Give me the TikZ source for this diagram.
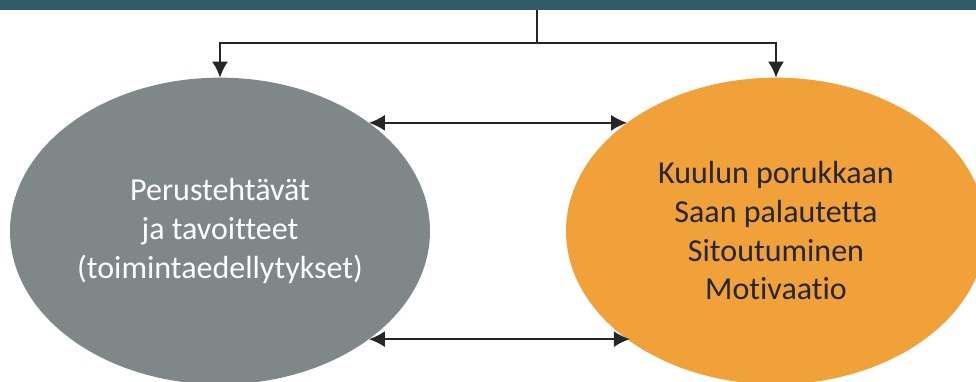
\documentclass[tikz,border=0pt]{standalone}
\usepackage{fontspec}
\setmainfont{Carlito}[Ligatures=NoCommon]
\usepackage{xcolor}
\usetikzlibrary{shapes.geometric,arrows.meta}

\definecolor{barteal}{RGB}{47,92,102}
\definecolor{blobgray}{RGB}{128,135,137}
\definecolor{bloborange}{RGB}{240,161,58}
\definecolor{inkdark}{RGB}{38,38,38}

\begin{document}
\begin{tikzpicture}[x=0.75pt,y=-0.75pt,
    blob/.style={ellipse,draw=none,minimum width=315pt,minimum height=230pt,
      inner sep=0pt,outer sep=0pt,align=center,font=\fontsize{24}{29}\selectfont},
    link/.style={line width=1.5pt,draw=inkdark,{Latex[length=12pt,width=12pt]}-{Latex[length=12pt,width=12pt]}},
    feed/.style={line width=1.5pt,draw=inkdark,-{Latex[length=12pt,width=12pt]}}]
             \useasboundingbox (0,0) rectangle (976,382);
             \clip (0,0) rectangle (976,382);

             % top bar
             \node[fill=barteal,draw=none,inner sep=0pt,outer sep=0pt,
               minimum width=732pt,minimum height=7.2pt,anchor=north west] (bar) at (0,0) {};

             \node[blob,fill=blobgray,text=white] (gray) at (220,231)
               {Perustehtävät\\ja tavoitteet\\(toimintaedellytykset)};
             \node[blob,fill=bloborange,text=inkdark] (orange) at (776,231)
               {Kuulun porukkaan\\Saan palautetta\\Sitoutuminen\\Motivaatio};

             % from the bar down to both
             \coordinate (split) at (537,43);
             \draw[line width=1.5pt,draw=inkdark] (bar.south -| split) -- (split);
             \draw[feed] (split) -| (gray.north);
             \draw[feed] (split) -| (orange.north);

             % between the two
             \draw[link] (gray.36) -- (gray.36 -| orange.144);
             \draw[link] (gray.-36.5) -- (gray.-36.5 -| orange.-143.5);
             \end{tikzpicture}
\end{document}
